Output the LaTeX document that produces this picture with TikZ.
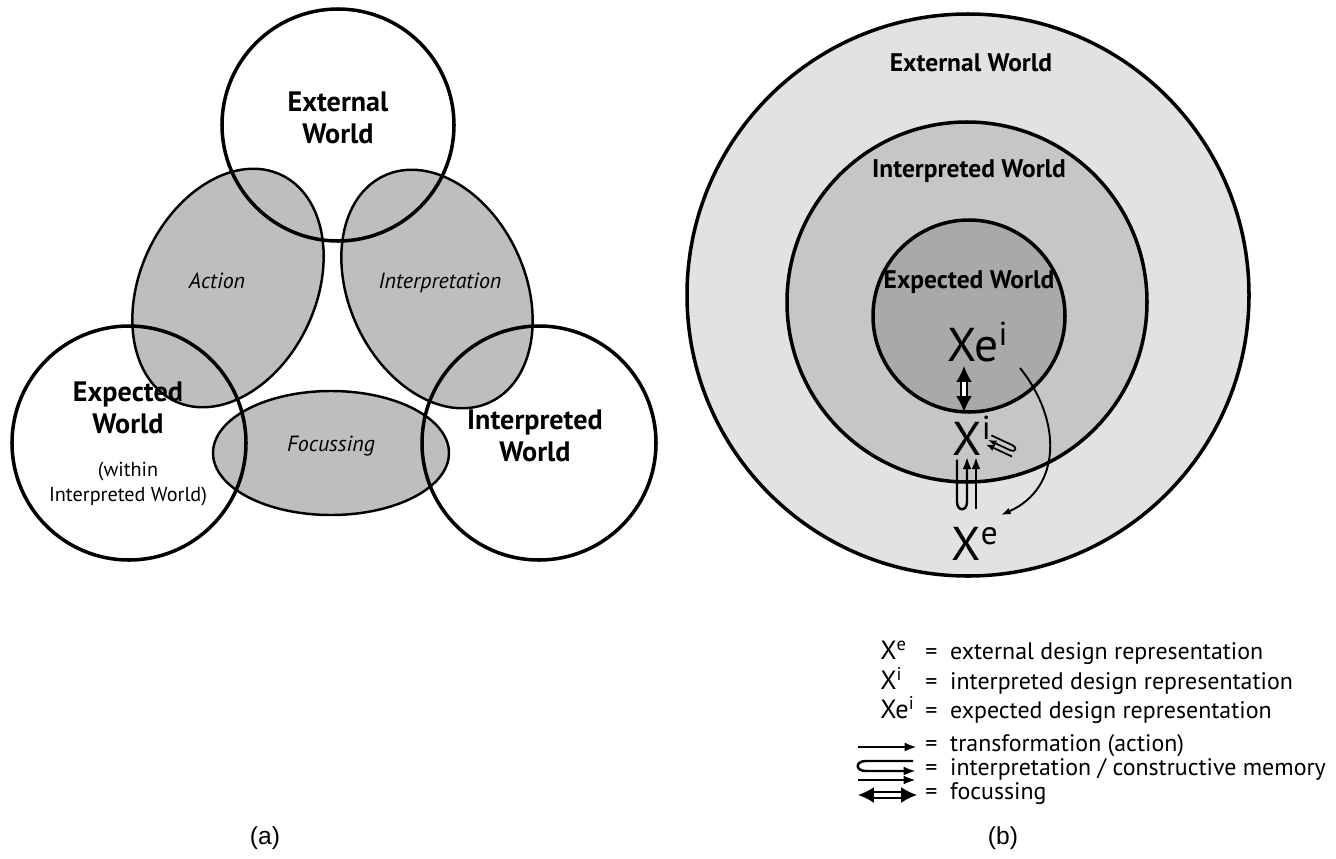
\documentclass[tikz,border=0pt]{standalone}
\usepackage{fontspec}
\setmainfont{PT Sans}
\newfontfamily\capfont{Liberation Sans}
\usetikzlibrary{arrows.meta}
\definecolor{lobegray}{HTML}{BEBEBE}
\definecolor{outerw}{HTML}{E2E2E2}
\definecolor{midw}{HTML}{C6C6C6}
\definecolor{innerw}{HTML}{A9A9A9}
\tikzset{
  world/.style={line width=2pt},
  lobe/.style={fill=lobegray, draw=black, line width=1.4pt},
  wlabel/.style={font=\bfseries\fontsize{16}{18}\selectfont, align=center},
  blabel/.style={font=\bfseries\fontsize{14.5}{16}\selectfont},
  llabel/.style={font=\itshape\fontsize{12.5}{14}\selectfont},
  xlabel/.style={font=\fontsize{27}{30}\selectfont, inner sep=0pt, anchor=base},
  legtext/.style={font=\fontsize{13.6}{15}\selectfont, anchor=mid west, inner sep=0pt},
  legkey/.style={font=\fontsize{15}{15}\selectfont, anchor=mid west, inner sep=0pt},
  tip/.style={-{Latex[length=0pt 5, width=0pt 3.6]}},
  focus/.style={double, double distance=2pt, line width=1pt,
    {Latex[length=9pt, width=9pt]}-{Latex[length=9pt, width=9pt]}},
  interp/.pic={
    \draw[tip] (55,10) -- (8,10) .. controls (-3,10) and (-3,0) .. (8,0) -- (58,0);
    \draw[tip] (0,-9) -- (58,-9);
  }
}
\begin{document}
\begin{tikzpicture}[x=0.02cm, y=0.02cm]
\useasboundingbox (0,0) rectangle (1336,-859);
% (a) three worlds and the lobes between them
\fill[lobegray, rotate around={-25:(228,-288)}] (228,-288) ellipse [x radius=88, y radius=125];
\fill[lobegray, rotate around={25:(437,-289)}] (437,-289) ellipse [x radius=88, y radius=125];
\fill[lobegray] (331,-453) ellipse [x radius=118, y radius=62];
\draw[lobe, fill=none, rotate around={-25:(228,-288)}] (228,-288) ellipse [x radius=88, y radius=125];
\draw[lobe, fill=none, rotate around={25:(437,-289)}] (437,-289) ellipse [x radius=88, y radius=125];
\draw[lobe, fill=none] (331,-453) ellipse [x radius=118, y radius=62];
\draw[world] (338,-125) circle [radius=116];
\draw[world] (129,-443) circle [radius=117];
\draw[world] (539,-443) circle [radius=117];

\node[wlabel] (ext) at (338,-118) {External\\World};
\node[wlabel] (exp) at (128,-408) {Expected\\World};
\node[font=\fontsize{11.5}{14}\selectfont, align=center] (within) at (128,-484) {(within\\Interpreted World)};
\node[wlabel] (int) at (535,-436) {Interpreted\\World};
\node[llabel] (act) at (217,-281) {Action};
\node[llabel] (itp) at (440,-283) {Interpretation};
\node[llabel] (foc) at (331,-446) {Focussing};
\node[font=\capfont\fontsize{14}{16}\selectfont] (capa) at (265,-838) {(a)};

% (b) nested worlds
\draw[world, fill=outerw] (968,-295) circle [radius=281];
\draw[world, fill=midw] (967,-302) circle [radius=180];
\draw[world, fill=innerw] (969,-316) circle [radius=96];
\node[blabel] (bext) at (971,-63) {External World};
\node[blabel] (bint) at (969,-171) {Interpreted World};
\node[blabel] (bexp) at (969,-282) {Expected World};

\node[xlabel] (xei) at (978,-361) {Xe\textsuperscript{i}};
\node[xlabel] (xi) at (972,-455) {X\textsuperscript{i}};
\node[xlabel] (xe) at (975,-560) {X\textsuperscript{e}};

\coordinate (fa) at (964,-366);
\coordinate (fb) at (964,-412);
\draw[focus] (fa) -- (fb);
\coordinate (ta) at (1020,-368);
\coordinate (tb) at (1001,-515);
\draw[tip, line width=1.1pt] (ta) .. controls (1062,-420) and (1062,-488) .. (tb);
\pic[line width=1.4pt, rotate=90, xscale=0.9] at (967,-509) {interp};
\pic[line width=1pt, rotate=-25, xscale=-0.5, yscale=0.55] at (1014,-452) {interp};
\node[font=\capfont\fontsize{14}{16}\selectfont] (capb) at (1003,-838) {(b)};

% legend
\node[legkey] (k1) at (880,-655) {X\textsuperscript{e}};
\node[legkey] (k2) at (880,-685) {X\textsuperscript{i}};
\node[legkey] (k3) at (880,-714) {Xe\textsuperscript{i}};
\node[legtext] (t1) at (925,-655) {= \ external design representation};
\node[legtext] (t2) at (925,-685) {= \ interpreted design representation};
\node[legtext] (t3) at (925,-714) {= \ expected design representation};
\node[legtext] (t4) at (925,-747) {= \ transformation (action)};
\node[legtext] (t5) at (925,-771) {= \ interpretation / constructive memory};
\node[legtext] (t6) at (925,-795) {= \ focussing};
\coordinate (s4) at (858,-747);
\coordinate (e4) at (917,-747);
\draw[tip, line width=1.4pt] (s4) -- (e4);
\pic[line width=1.4pt] at (858,-771) {interp};
\coordinate (s6) at (858,-795);
\coordinate (e6) at (917,-795);
\draw[focus] (s6) -- (e6);
\end{tikzpicture}
\end{document}
